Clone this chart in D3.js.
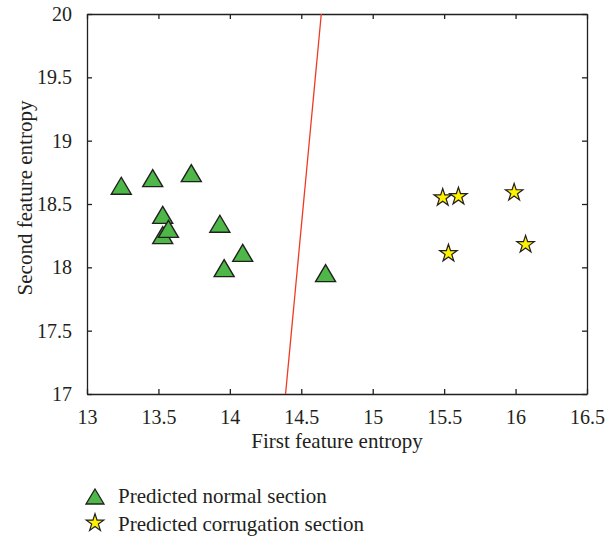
<!DOCTYPE html>
<html>
<head>
<meta charset="utf-8">
<script src="https://cdn.jsdelivr.net/npm/d3@7"></script>
<style>
  body { margin: 0; background: #fff; }
  svg text { font-family: "Liberation Serif", "DejaVu Serif", serif; fill: #231f20; }
</style>
</head>
<body>
<svg id="chart"></svg>
<script>
// Data
const normalX = [13.24, 13.46, 13.73, 13.53, 13.53, 13.57, 13.93, 14.09, 13.96, 14.67]
const normalY = [18.64, 18.70, 18.74, 18.25, 18.41, 18.30, 18.34, 18.11, 17.99, 17.95]
const corrX = [15.49, 15.60, 15.99, 15.53, 16.07]
const corrY = [18.55, 18.56, 18.59, 18.11, 18.18]
// decision boundary end points
const lineX = [14.39, 14.64]
const lineY = [17, 20]
const xTicks = [13, 13.5, 14, 14.5, 15, 15.5, 16, 16.5]
const yTicks = [17, 17.5, 18, 18.5, 19, 19.5, 20]
const legendLabels = ["Predicted normal section", "Predicted corrugation section"]

const W = 606, H = 540
const margin = {top: 14, right: 19, bottom: 146, left: 87}
const width = W - margin.left - margin.right
const height = H - margin.top - margin.bottom

const svg = d3.select("#chart").attr("width", W).attr("height", H)
const g = svg.append("g").attr("transform", "translate(" + margin.left + "," + margin.top + ")")

const xScale = d3.scaleLinear().domain([13, 16.5]).range([0, width])
const yScale = d3.scaleLinear().domain([17, 20]).range([height, 0])

const fmt = d => String(d)

// axes with inward ticks on all four sides
const tickLen = 5
const axes = []
axes.push(g.append("g").attr("transform", "translate(0," + height + ")")
    .call(d3.axisBottom(xScale).tickValues(xTicks).tickFormat(fmt).tickSizeInner(-tickLen).tickSizeOuter(0).tickPadding(16)))
axes.push(g.append("g")
    .call(d3.axisTop(xScale).tickValues(xTicks).tickFormat("").tickSizeInner(-tickLen).tickSizeOuter(0)))
axes.push(g.append("g")
    .call(d3.axisLeft(yScale).tickValues(yTicks).tickFormat(fmt).tickSizeInner(-tickLen).tickSizeOuter(0).tickPadding(15)))
axes.push(g.append("g").attr("transform", "translate(" + width + ",0)")
    .call(d3.axisRight(yScale).tickValues(yTicks).tickFormat("").tickSizeInner(-tickLen).tickSizeOuter(0)))

// drop d3's default sans-serif so the serif font from the stylesheet is used
axes.forEach(a => a.attr("font-family", null).attr("font-size", null))

g.selectAll(".domain").attr("stroke", "#231f20").attr("stroke-width", 1.3)
g.selectAll(".tick line").attr("stroke", "#231f20").attr("stroke-width", 1.3)
g.selectAll(".tick text").attr("fill", "#231f20").style("font-size", "20px")

// axis labels
g.append("text")
    .attr("x", width / 2).attr("y", height + 54)
    .attr("text-anchor", "middle").style("font-size", "21px")
    .text("First feature entropy")
g.append("text")
    .attr("transform", "rotate(-90)")
    .attr("x", -height / 2 + 6).attr("y", -55)
    .attr("text-anchor", "middle").style("font-size", "21px")
    .text("Second feature entropy")

// red boundary line
g.append("line")
    .attr("x1", xScale(lineX[0])).attr("y1", yScale(lineY[0]))
    .attr("x2", xScale(lineX[1])).attr("y2", yScale(lineY[1]))
    .attr("stroke", "#ee3a23").attr("stroke-width", 1.3)

const triPath = "M0,-9L10,8L-10,8Z"
const starPath = d3.symbol().type(d3.symbolStar).size(95)()

const normal = normalX.map((x, i) => ({x: x, y: normalY[i]}))
const corr = corrX.map((x, i) => ({x: x, y: corrY[i]}))

g.selectAll(".tri").data(normal).enter().append("path")
    .attr("d", triPath)
    .attr("transform", d => "translate(" + xScale(d.x) + "," + yScale(d.y) + ")")
    .attr("fill", "#4db848").attr("stroke", "#231f20").attr("stroke-width", 1.4)

g.selectAll(".star").data(corr).enter().append("path")
    .attr("d", starPath)
    .attr("transform", d => "translate(" + xScale(d.x) + "," + yScale(d.y) + ")")
    .attr("fill", "#fff200").attr("stroke", "#231f20").attr("stroke-width", 1.2)

// legend
const legend = svg.append("g")
legend.append("path").attr("d", "M0,-8L9,7L-9,7Z")
    .attr("transform", "translate(95,497)")
    .attr("fill", "#4db848").attr("stroke", "#231f20").attr("stroke-width", 1.3)
legend.append("path").attr("d", starPath)
    .attr("transform", "translate(95,523)")
    .attr("fill", "#fff200").attr("stroke", "#231f20").attr("stroke-width", 1.2)
legend.selectAll(".lt").data(legendLabels).enter().append("text")
    .attr("x", 118).attr("y", (d, i) => 503 + i * 28)
    .style("font-size", "21px")
    .text(d => d)
</script>
</body>
</html>
